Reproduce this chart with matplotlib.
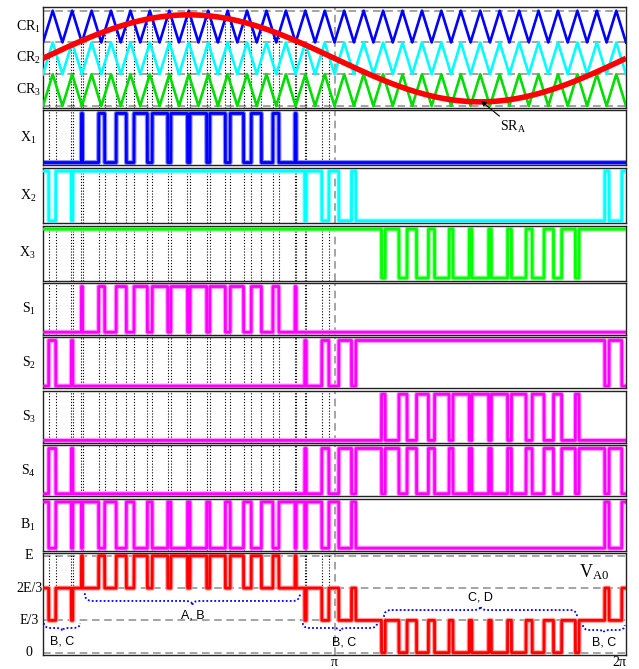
import numpy as np
import matplotlib
matplotlib.use('Agg')
import matplotlib.pyplot as plt
from matplotlib.path import Path
from matplotlib.patches import PathPatch

plt.rcParams.update({'font.family': 'Liberation Serif'})
plt.rcParams.update({'mathtext.fontset': 'custom'})
plt.rcParams.update({'mathtext.rm': 'Liberation Serif'})
plt.rcParams.update({'mathtext.it': 'Liberation Serif:italic'})

#%% values

n_carriers = 30                 # carrier periods per fundamental cycle
band_levels = [0, 1, 2, 3]      # CR3: 0..1, CR2: 1..2, CR1: 2..3
ref_offset = 1.5                # SR_A mid level
ref_amp = 1.37                  # SR_A amplitude
carrier_names = ['CR$_1$', 'CR$_2$', 'CR$_3$']
panel_names = ['X$_1$', 'X$_2$', 'X$_3$', 'S$_1$', 'S$_2$', 'S$_3$', 'S$_4$', 'B$_1$']
v_levels = [0, 1/3, 2/3, 1]
v_level_labels = ['0', 'E/3', '2E/3', 'E']
x_tick_pos = [np.pi, 2*np.pi]
x_tick_labels = ['π', '2π']
brace_labels = ['B, C', 'A, B', 'B, C', 'C, D', 'B, C']
brace_spans = [(0.01, 0.40), (0.45, 2.77), (2.80, 3.60), (3.675, 5.755), (5.82, 6.27)]

#%% carriers, reference and the logic signals

tt = np.linspace(0, 2*np.pi, 40001)
ref = ref_offset + ref_amp*np.sin(tt)
phase = (tt*n_carriers/(2*np.pi)) % 1
tri = 1 - np.abs(2*phase - 1)
carriers = [band_levels[2] + tri, band_levels[1] + tri, band_levels[0] + tri]

x1 = (ref > carriers[0]).astype(float)
x2 = (ref > carriers[1]).astype(float)
x3 = (ref > carriers[2]).astype(float)
s1 = x1
s2 = 1 - x2
s3 = 1 - x3
s4 = (1 - x2)*x3
b1 = x2*(1 - x1)
v_a0 = (x1 + x2 + x3)/3
signals = [x1, x2, x3, s1, s2, s3, s4, b1]

# switching instants of X1, X2 over the first half cycle
idx = np.where((np.diff(x1) != 0) | (np.diff(x2) != 0))[0]
idx = idx[tt[idx] < np.pi]
sw = 0.5*(tt[idx] + tt[idx + 1])

#%% figure

W, H = 639, 669
fig = plt.figure(figsize=(W/100, H/100), dpi=100)
left, right = 43, 626
panels_px = [(7.3, 107.7), (110, 165), (167.7, 223.3), (225.7, 280.5), (283.3, 334.5),
             (337.3, 388.3), (391, 442.7), (445.3, 496), (498.7, 550.5), (553, 655)]
axs = []
for top, bot in panels_px:
    ax = fig.add_axes([left/W, 1 - bot/H, (right - left)/W, (bot - top)/H])
    ax.set_facecolor('none')
    ax.set_xlim(0, 2*np.pi)
    ax.set_xticks([])
    ax.set_yticks([])
    for sp in ax.spines.values():
        sp.set_linewidth(1.0)
        sp.set_color('#222222')
    axs.append(ax)

gray_dash = dict(color='#8c8c8c', linestyle=(0, (5, 3)), linewidth=1.1)
dot = dict(color='k', linestyle=(0, (1, 1.6)), linewidth=0.8)

# top panel: carriers + reference
ax0 = axs[0]
ax0.set_ylim(-0.054, 3.107)
for lv in band_levels:
    ax0.axhline(lv, zorder=1, **gray_dash)
c_cols = ['#0000ff', '#00ffff', '#00dd00']
for cr, col in zip(carriers, c_cols):
    ax0.plot(tt, cr, color=col, lw=1.9, zorder=3)
ax0.plot(tt, ref, color='#ff0000', lw=4.0, zorder=4, solid_capstyle='butt')
ref_sw = ref_offset + ref_amp*np.sin(sw)
ax0.vlines(sw, -0.054, ref_sw, zorder=2, **dot)
ax0.axvline(np.pi, zorder=2, **gray_dash)
for name, yy in zip(carrier_names, [2.5, 1.5, 0.5]):
    ax0.text(-0.004, yy, name, transform=ax0.get_yaxis_transform(), ha='right', va='center',
             fontsize=10)
ax0.annotate('SR$_\\mathrm{A}$', xy=(4.72, 0.16), xytext=(4.92, -0.66),
             ha='left', va='center', fontsize=10, annotation_clip=False, zorder=6,
             arrowprops=dict(arrowstyle='-|>', color='k', lw=0.8, mutation_scale=7,
                             shrinkA=0, shrinkB=0))

# logic signal panels
strong = ['#0000ff', '#00ffff', '#00ff00'] + ['#ff00ff']*5
light = ['#8c8cff', '#a8ffff', '#a0ffa0'] + ['#ff9cff']*5
for ax, sig, name, cs, cl in zip(axs[1:9], signals, panel_names, strong, light):
    ax.set_ylim(-0.05, 1.07)
    ax.vlines(sw, -0.05, 1.07, zorder=1, **dot)
    ax.axvline(np.pi, zorder=1, **gray_dash)
    ax.plot(tt, sig, color=cl, lw=3.6, zorder=2)
    ax.plot(tt, sig, color=cs, lw=2.0, zorder=3)
    ax.text(-0.012, 0.5, name, transform=ax.transAxes, ha='right', va='center', fontsize=10)

# V_A0 panel
axv = axs[9]
axv.set_ylim(-0.024, 1.029)
for lv, lab in zip(v_levels, v_level_labels):
    axv.axhline(lv, zorder=1, **gray_dash)
    axv.text(-0.024, lv, lab, transform=axv.get_yaxis_transform(), ha='center',
             va='center', fontsize=10)
v_lo = np.minimum(v_a0[idx], v_a0[idx + 1])
axv.vlines(sw, v_lo, 1.029, zorder=1, **dot)
axv.axvline(np.pi, zorder=1, **gray_dash)
axv.plot(tt, v_a0, color='#ff9c9c', lw=3.6, zorder=2)
axv.plot(tt, v_a0, color='#ff0000', lw=2.0, zorder=3)
for xp, lab in zip(x_tick_pos, x_tick_labels):
    axv.text(xp if xp < 6 else 6.21, -0.075, lab, transform=axv.get_xaxis_transform(),
             ha='center', va='center', fontsize=10)
axv.text(5.78, 0.83, 'V$_\\mathrm{A0}$', fontsize=13, ha='left', va='center')


def brace(ax, x0, x1, y, d, t, w=0.075):
    xm = 0.5*(x0 + x1)
    verts = [(x0, y + d), (x0, y), (x0 + w, y), (xm - w, y), (xm, y), (xm, y + t),
             (xm, y), (xm + w, y), (x1 - w, y), (x1, y), (x1, y + d)]
    codes = [Path.MOVETO, Path.CURVE3, Path.CURVE3, Path.LINETO, Path.CURVE3, Path.CURVE3,
             Path.CURVE3, Path.CURVE3, Path.LINETO, Path.CURVE3, Path.CURVE3]
    ax.add_patch(PathPatch(Path(verts, codes), fill=False, edgecolor='#0000ff',
                           linestyle=(0, (1, 1.2)), linewidth=1.3, zorder=4))


# brace placement: (mid level, end curl, tip, label level)
brace_geom = [(0.255, 0.05, -0.03, 0.12), (0.534, 0.08, -0.045, 0.38),
              (0.255, 0.05, -0.03, 0.11), (0.44, -0.07, 0.04, 0.565),
              (0.234, 0.05, -0.02, 0.11)]
for (x0, x1), lab, (ym, d, t, yl) in zip(brace_spans, brace_labels, brace_geom):
    brace(axv, x0, x1, ym, d, t)
    axv.text(0.5*(x0 + x1) + (0.04 if lab == 'B, C' and x0 > 2 and x0 < 3 else 0), yl, lab,
             fontfamily='Liberation Sans', fontsize=9, ha='center', va='center')

plt.savefig('out.png', dpi=100)
